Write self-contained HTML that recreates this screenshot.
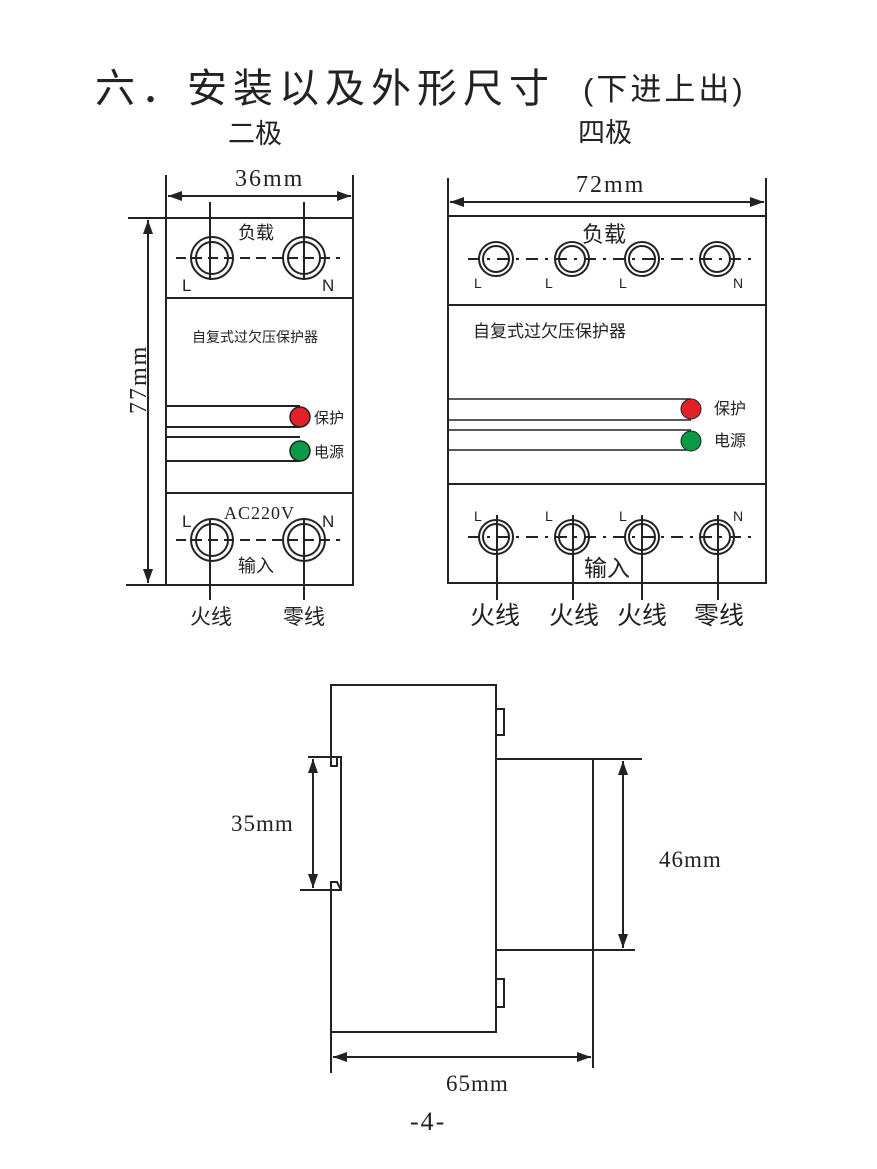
<!DOCTYPE html>
<html><head><meta charset="utf-8"><style>
html,body{margin:0;padding:0;background:#fff;}
svg{display:block;}
.cn{font-family:"Liberation Sans","Noto Sans CJK SC",sans-serif;fill:#222;}
.sr{font-family:"Liberation Serif","Noto Serif CJK SC",serif;fill:#222;}
.sa{font-family:"Liberation Sans",sans-serif;fill:#222;}
</style></head><body>
<svg width="877" height="1169" viewBox="0 0 877 1169" xmlns="http://www.w3.org/2000/svg">
<defs>
<marker id="ar" viewBox="0 0 14 10" refX="14" refY="5" markerWidth="14" markerHeight="10" orient="auto-start-reverse" markerUnits="userSpaceOnUse"><path d="M0,0 L14,5 L0,10 z" fill="#222"/></marker>
</defs>
<text x="95" y="102" class="cn" font-size="40" letter-spacing="6">六．安装以及外形尺寸</text>
<text x="583" y="100" class="cn" font-size="31" letter-spacing="3">(下进上出)</text>
<text x="228" y="143" class="cn" font-size="27">二极</text>
<text x="578" y="142" class="cn" font-size="27">四极</text>

<g stroke="#222" stroke-width="2" fill="none">
<!-- LEFT DEVICE -->
<rect x="166" y="218" width="187" height="367"/>
<line x1="166" y1="298" x2="353" y2="298"/>
<line x1="166" y1="493" x2="353" y2="493"/>
<line x1="128" y1="218" x2="166" y2="218"/>
<line x1="126" y1="585" x2="166" y2="585"/>
<line x1="166" y1="175" x2="166" y2="218"/>
<line x1="353" y1="175" x2="353" y2="218"/>
<line x1="168" y1="196" x2="351" y2="196" marker-start="url(#ar)" marker-end="url(#ar)"/>
<line x1="148" y1="220" x2="148" y2="583" marker-start="url(#ar)" marker-end="url(#ar)"/>
<line x1="176" y1="258" x2="340" y2="258" stroke-dasharray="10,6"/>
<line x1="176" y1="540" x2="340" y2="540" stroke-dasharray="10,6"/>
<circle cx="212" cy="258" r="21"/><circle cx="212" cy="258" r="16"/>
<circle cx="304" cy="258" r="21"/><circle cx="304" cy="258" r="16"/>
<circle cx="212" cy="540" r="21"/><circle cx="212" cy="540" r="16"/>
<circle cx="304" cy="540" r="21"/><circle cx="304" cy="540" r="16"/>
<line x1="210" y1="202" x2="210" y2="280"/><line x1="304" y1="202" x2="304" y2="280"/>
<line x1="210" y1="520" x2="210" y2="600"/><line x1="304" y1="520" x2="304" y2="600"/>
<path d="M166 406 H300 M166 427 H300 M166 437 H300 M166 461 H300"/>

<!-- RIGHT DEVICE -->
<rect x="448" y="216" width="318" height="367"/>
<line x1="448" y1="305" x2="766" y2="305"/>
<line x1="448" y1="484" x2="766" y2="484"/>
<line x1="448" y1="178" x2="448" y2="216"/>
<line x1="766" y1="178" x2="766" y2="216"/>
<line x1="450" y1="202" x2="764" y2="202" marker-start="url(#ar)" marker-end="url(#ar)"/>
<line x1="468" y1="259" x2="752" y2="259" stroke-dasharray="12,7,3,7"/>
<line x1="468" y1="537" x2="752" y2="537" stroke-dasharray="12,7,3,7"/>
<circle cx="496" cy="259" r="17"/><circle cx="496" cy="259" r="13"/>
<circle cx="572" cy="259" r="17"/><circle cx="572" cy="259" r="13"/>
<circle cx="642" cy="259" r="17"/><circle cx="642" cy="259" r="13"/>
<circle cx="717" cy="259" r="17"/><circle cx="717" cy="259" r="13"/>
<circle cx="496" cy="537" r="17"/><circle cx="496" cy="537" r="13"/>
<circle cx="572" cy="537" r="17"/><circle cx="572" cy="537" r="13"/>
<circle cx="642" cy="537" r="17"/><circle cx="642" cy="537" r="13"/>
<circle cx="717" cy="537" r="17"/><circle cx="717" cy="537" r="13"/>
<line x1="497" y1="515" x2="497" y2="600"/><line x1="573" y1="515" x2="573" y2="600"/>
<line x1="642" y1="515" x2="642" y2="600"/><line x1="718" y1="515" x2="718" y2="600"/>
<path d="M448 399 H691 M448 420 H691 M448 430 H691 M448 450 H691" stroke-width="1.5"/>

<!-- SIDE VIEW -->
<path d="M331 757 V685 H496 V1032 H331 V890"/>
<path d="M331 757 H341 V890 H331"/>
<path d="M331 757 V766 H337 V757"/>
<path d="M331 890 V882 H337 L341 890"/>
<line x1="308" y1="757" x2="331" y2="757"/>
<line x1="300" y1="890" x2="331" y2="890"/>
<line x1="313" y1="759" x2="313" y2="888" marker-start="url(#ar)" marker-end="url(#ar)"/>
<line x1="331" y1="1032" x2="331" y2="1073"/>
<rect x="496" y="709" width="8" height="26"/>
<rect x="496" y="979" width="8" height="28"/>
<line x1="496" y1="759" x2="642" y2="759"/>
<line x1="496" y1="950" x2="635" y2="950"/>
<line x1="593" y1="759" x2="593" y2="1068"/>
<line x1="623" y1="761" x2="623" y2="948" marker-start="url(#ar)" marker-end="url(#ar)"/>
<line x1="333" y1="1057" x2="591" y2="1057" marker-start="url(#ar)" marker-end="url(#ar)"/>
</g>
<circle cx="300" cy="417" r="10" fill="#e3202a" stroke="#222" stroke-width="1.5"/>
<circle cx="300" cy="451" r="10" fill="#0a9a45" stroke="#222" stroke-width="1.5"/>
<circle cx="691" cy="409" r="10" fill="#e3202a" stroke="#222" stroke-width="1"/>
<circle cx="691" cy="441" r="10" fill="#0a9a45" stroke="#222" stroke-width="1"/>

<!-- left texts -->
<text x="235" y="186" class="sr" font-size="24" letter-spacing="2">36mm</text>
<text transform="translate(146,414) rotate(-90)" class="sr" font-size="24" letter-spacing="2">77mm</text>
<text x="238" y="239" class="cn" font-size="18">负载</text>
<text x="182" y="291" class="sa" font-size="17">L</text>
<text x="322" y="291" class="sa" font-size="17">N</text>
<text x="192" y="342" class="cn" font-size="14">自复式过欠压保护器</text>
<text x="314" y="423" class="cn" font-size="15">保护</text>
<text x="314" y="457" class="cn" font-size="15">电源</text>
<text x="224" y="519" class="sr" font-size="18" letter-spacing="1">AC220V</text>
<text x="182" y="527" class="sa" font-size="17">L</text>
<text x="322" y="527" class="sa" font-size="17">N</text>
<text x="238" y="572" class="cn" font-size="18">输入</text>
<text x="190" y="624" class="cn" font-size="21">火线</text>
<text x="283" y="624" class="cn" font-size="21">零线</text>

<!-- right texts -->
<text x="576" y="192" class="sr" font-size="24" letter-spacing="2">72mm</text>
<text x="582" y="242" class="cn" font-size="22">负载</text>
<text x="474" y="288" class="sa" font-size="14">L</text>
<text x="545" y="288" class="sa" font-size="14">L</text>
<text x="619" y="288" class="sa" font-size="14">L</text>
<text x="733" y="288" class="sa" font-size="14">N</text>
<text x="473" y="337" class="cn" font-size="17">自复式过欠压保护器</text>
<text x="714" y="414" class="cn" font-size="16">保护</text>
<text x="714" y="446" class="cn" font-size="16">电源</text>
<text x="474" y="521" class="sa" font-size="14">L</text>
<text x="545" y="521" class="sa" font-size="14">L</text>
<text x="619" y="521" class="sa" font-size="14">L</text>
<text x="733" y="521" class="sa" font-size="14">N</text>
<text x="584" y="576" class="cn" font-size="23">输入</text>
<text x="470" y="624" class="cn" font-size="25">火线</text>
<text x="549" y="624" class="cn" font-size="25">火线</text>
<text x="617" y="624" class="cn" font-size="25">火线</text>
<text x="694" y="624" class="cn" font-size="25">零线</text>

<!-- side texts -->
<text x="231" y="831" class="sr" font-size="23" letter-spacing="1">35mm</text>
<text x="659" y="867" class="sr" font-size="23" letter-spacing="1">46mm</text>
<text x="446" y="1091" class="sr" font-size="23" letter-spacing="1">65mm</text>
<text x="410" y="1130" class="sr" font-size="26" letter-spacing="2">-4-</text>
</svg>
</body></html>
